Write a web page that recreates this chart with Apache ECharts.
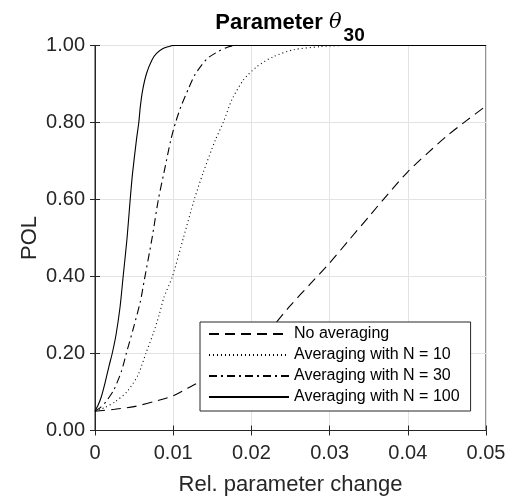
<!DOCTYPE html>
<html>
<head>
<meta charset="utf-8">
<script src="https://cdn.jsdelivr.net/npm/echarts@6/dist/echarts.min.js"></script>
<style>
html,body{margin:0;padding:0;background:#fff;}
#c{width:506px;height:496px;}
</style>
</head>
<body>
<div id="c"></div>
<script>
// ---- data ----
const seriesNames = ['No averaging', 'Averaging with N = 10', 'Averaging with N = 30', 'Averaging with N = 100'];
const xTicks = [0, 0.01, 0.02, 0.03, 0.04, 0.05];
const yTicks = [0, 0.2, 0.4, 0.6, 0.8, 1.0];

const xNoAvg = [0, 0.0025, 0.005, 0.0075, 0.01, 0.0125, 0.015, 0.0175, 0.02, 0.0225, 0.025, 0.0275, 0.03, 0.0325, 0.035, 0.0375, 0.04, 0.0425, 0.045, 0.0475, 0.05];
const yNoAvg = [0.05, 0.055, 0.062, 0.075, 0.09, 0.117, 0.145, 0.18, 0.215, 0.265, 0.325, 0.38, 0.435, 0.495, 0.555, 0.615, 0.672, 0.72, 0.765, 0.805, 0.843];

const xN10 = [0, 0.0013, 0.0026, 0.0041, 0.0055, 0.0065, 0.0075, 0.0082, 0.0088, 0.0099, 0.0113, 0.0127, 0.0138, 0.0154, 0.0164, 0.0175, 0.019, 0.0207, 0.0228, 0.0254, 0.0288, 0.032, 0.05];
const yN10 = [0.05, 0.06, 0.075, 0.101, 0.144, 0.2, 0.255, 0.3, 0.345, 0.4, 0.5, 0.6, 0.668, 0.755, 0.8, 0.859, 0.911, 0.945, 0.971, 0.989, 0.997, 1.0, 1.0];

const xN30 = [0, 0.0007, 0.0014, 0.0024, 0.0034, 0.004, 0.0049, 0.0058, 0.0063, 0.0073, 0.0081, 0.0088, 0.0097, 0.0103, 0.011, 0.012, 0.0128, 0.0143, 0.0158, 0.0171, 0.018, 0.05];
const yN30 = [0.05, 0.06, 0.075, 0.105, 0.155, 0.2, 0.265, 0.335, 0.39, 0.5, 0.6, 0.668, 0.755, 0.8, 0.842, 0.89, 0.925, 0.965, 0.985, 0.997, 1.0, 1.0];

const xN100 = [0, 0.0004, 0.0008, 0.0013, 0.0018, 0.0022, 0.0027, 0.0032, 0.0036, 0.0041, 0.0045, 0.0048, 0.0053, 0.0056, 0.0058, 0.0061, 0.0066, 0.0073, 0.0079, 0.0087, 0.0094, 0.01, 0.05];
const yN100 = [0.05, 0.066, 0.087, 0.125, 0.168, 0.2, 0.25, 0.32, 0.4, 0.5, 0.6, 0.668, 0.755, 0.8, 0.842, 0.885, 0.928, 0.963, 0.98, 0.992, 0.997, 1.0, 1.0];

const FONT = "'Liberation Sans', Arial, Helvetica, sans-serif";
const zip = (xs, ys) => xs.map((x, i) => [x, ys[i]]);

const chart = echarts.init(document.getElementById('c'), null, {renderer: 'canvas'});

function mkSeries(name, xs, ys, type) {
  return {
    name: name, type: 'line', data: zip(xs, ys),
    showSymbol: false, symbol: 'none', smooth: 0.25, animation: false,
    xAxisIndex: 0, yAxisIndex: 0,
    lineStyle: {color: '#000', width: 1.1, type: type},
    itemStyle: {color: '#000'},
    emphasis: {disabled: true}
  };
}

const axisCommon = {
  min: 0,
  axisLine: {show: true, lineStyle: {color: '#262626', width: 1}},
  axisTick: {show: true, inside: true, length: 5, lineStyle: {color: '#262626'}},
};

chart.setOption({
  animation: false,
  backgroundColor: '#fff',
  title: {
    text: '{a|Parameter }{b|θ}{c|30}',
    left: 290, top: 0, textAlign: 'center', padding: 0,
    textStyle: {
      rich: {
        a: {fontFamily: FONT, fontSize: 22, fontWeight: 'bold', color: '#000'},
        b: {fontFamily: "'DejaVu Serif', serif", fontSize: 21, fontStyle: 'italic', fontWeight: 'normal', color: '#000'},
        c: {fontFamily: FONT, fontSize: 19, fontWeight: 'bold', color: '#000', padding: [26, 0, 0, 2]}
      }
    }
  },
  grid: {left: 95, right: 20, top: 45.5, bottom: 65.5, outerBoundsMode: 'none', containLabel: false,
    show: true, borderColor: '#262626', borderWidth: 1, backgroundColor: '#fff'},
  legend: {
    data: seriesNames,
    orient: 'vertical', left: 200, top: 322,
    itemWidth: 80, itemHeight: 16, itemGap: 5,
    padding: [4, 11, 6, 8],
    borderColor: '#262626', borderWidth: 1, backgroundColor: '#fff',
    itemStyle: {opacity: 0, color: 'transparent', borderWidth: 0},
    textStyle: {fontFamily: FONT, fontSize: 16, color: '#000', lineHeight: 16},
    selectedMode: false
  },
  xAxis: [
    Object.assign({}, axisCommon, {
      type: 'value', position: 'bottom', max: 0.05, interval: 0.01,
      name: 'Rel. parameter change', nameLocation: 'middle', nameGap: 43,
      nameTextStyle: {fontFamily: FONT, fontSize: 22, color: '#262626'},
      axisLabel: {fontFamily: FONT, fontSize: 20, color: '#262626', margin: 13,
        formatter: v => (xTicks.some(t => Math.abs(t - v) < 1e-9) ? (v === 0 ? '0' : v.toFixed(2)) : '')},
      splitLine: {show: true, lineStyle: {color: '#e3e3e3', width: 1}}
    }),
    Object.assign({}, axisCommon, {
      type: 'value', position: 'top', max: 0.05, interval: 0.01,
      axisLabel: {show: false}, splitLine: {show: false}
    })
  ],
  yAxis: [
    Object.assign({}, axisCommon, {
      type: 'value', position: 'left', max: 1, interval: 0.2,
      name: 'POL', nameLocation: 'middle', nameGap: 54, nameMoveOverlap: false,
      nameTextStyle: {fontFamily: FONT, fontSize: 22, color: '#262626'},
      axisLabel: {fontFamily: FONT, fontSize: 20, color: '#262626', margin: 10,
        formatter: v => (yTicks.some(t => Math.abs(t - v) < 1e-9) ? v.toFixed(2) : '')},
      splitLine: {show: true, lineStyle: {color: '#e3e3e3', width: 1}}
    }),
    Object.assign({}, axisCommon, {
      type: 'value', position: 'right', max: 1, interval: 0.2,
      axisLabel: {show: false}, splitLine: {show: false}
    })
  ],
  series: [
    mkSeries(seriesNames[0], xNoAvg, yNoAvg, [10, 6]),
    mkSeries(seriesNames[1], xN10, yN10, [1, 3]),
    mkSeries(seriesNames[2], xN30, yN30, [8, 4, 2, 4]),
    mkSeries(seriesNames[3], xN100, yN100, 'solid')
  ]
});
</script>
</body>
</html>
